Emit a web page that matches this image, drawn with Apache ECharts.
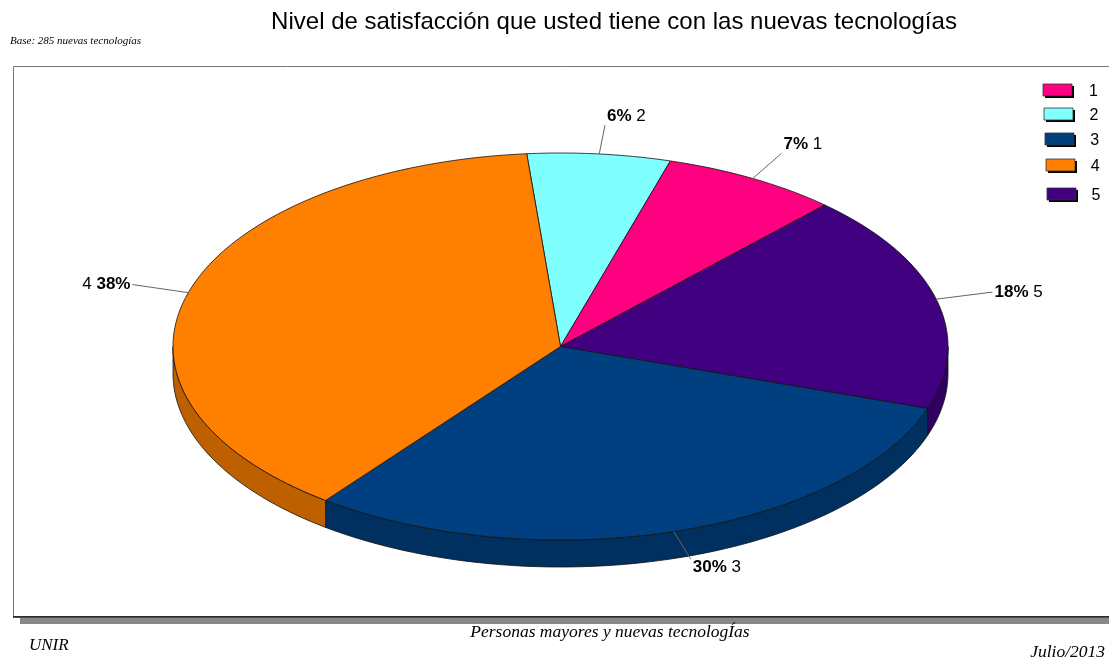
<!DOCTYPE html>
<html>
<head>
<meta charset="utf-8">
<title>Nivel de satisfacción</title>
<script src="https://cdn.jsdelivr.net/npm/echarts@6/dist/echarts.min.js"></script>
<style>
  html, body { margin: 0; padding: 0; background: #fff; }
  #chart { width: 1109px; height: 659px; }
</style>
</head>
<body>
<div id="chart"></div>
<script>
// datos (285 respuestas)
const categories = ['1', '2', '3', '4', '5'];
const counts = [21, 17, 86, 109, 52];
// orden de las porciones en el sentido de las agujas del reloj
const sliceOrder = ['2', '1', '5', '3', '4'];
const colors = ['#ff0080', '#80ffff', '#004080', '#ff8000', '#400080'];
const sideColors = ['#bf0060', '#60bfbf', '#003060', '#bf6000', '#300060'];

// geometria de la tarta (elipse en pantalla)
const CX = 560.5, CY = 346.5, RX = 387.5, RY = 193.5, DEPTH = 27;
const START = 95;
const LABEL_K = 1.15;
const LEGEND_Y = [84, 108, 133, 159, 188];
const FONT = "'Liberation Sans', Arial, sans-serif";
const SERIF = "'Liberation Serif', 'Times New Roman', serif";

const total = counts.reduce((a, b) => a + b, 0);

// angulos de cada porcion
let acc = START;
const sliceData = sliceOrder.map(name => {
  const i = categories.indexOf(name);
  const span = counts[i] / total * 360;
  const item = [acc, acc - span, i];
  acc -= span;
  return item;
});

function pt(deg, dy) {
  const t = deg * Math.PI / 180;
  return [CX + RX * Math.cos(t), CY - RY * Math.sin(t) + (dy || 0)];
}

function arc(from, to, dy) {
  const pts = [];
  const n = Math.max(2, Math.ceil(Math.abs(from - to) / 1.5));
  for (let k = 0; k <= n; k++) pts.push(pt(from + (to - from) * k / n, dy));
  return pts;
}

function renderItem(params, api) {
  const a0 = api.value(0), a1 = api.value(1), i = api.value(2);
  const children = [];

  // lateral (solo la mitad delantera)
  const lo = Math.max(a1, -180), hi = Math.min(a0, 0);
  if (lo < hi) {
    const side = arc(hi, lo, 0).concat(arc(lo, hi, DEPTH));
    children.push({
      type: 'polygon',
      shape: { points: side },
      style: { fill: sideColors[i], stroke: '#111', lineWidth: 0.8 }
    });
  }

  // cara superior
  const top = [[CX, CY]].concat(arc(a0, a1, 0));
  children.push({
    type: 'polygon',
    shape: { points: top },
    style: { fill: colors[i], stroke: '#111', lineWidth: 0.8 }
  });

  // etiqueta con linea guia
  const mid = (a0 + a1) / 2;
  const t = mid * Math.PI / 180;
  const p0 = pt(mid, 0);
  const p1 = [CX + (p0[0] - CX) * LABEL_K, CY + (p0[1] - CY) * LABEL_K];
  children.push({
    type: 'line',
    shape: { x1: p0[0], y1: p0[1], x2: p1[0], y2: p1[1] },
    style: { stroke: '#666', lineWidth: 1 }
  });
  const pct = Math.round(counts[i] / total * 100) + '%';
  const right = Math.cos(t) >= 0;
  const s = Math.sin(t);
  children.push({
    type: 'text',
    x: p1[0] + (right ? 2 : -2),
    y: p1[1],
    style: {
      text: right ? '{p|' + pct + '} {n|' + categories[i] + '}'
                  : '{n|' + categories[i] + '} {p|' + pct + '}',
      align: right ? 'left' : 'right',
      verticalAlign: s > 0.5 ? 'bottom' : (s < -0.5 ? 'top' : 'middle'),
      fill: '#000',
      fontSize: 17,
      fontFamily: FONT,
      rich: {
        p: { fontWeight: 'bold', fontSize: 17, fontFamily: FONT, fill: '#000' },
        n: { fontSize: 17, fontFamily: FONT, fill: '#000' }
      }
    }
  });

  return { type: 'group', children: children };
}

// leyenda hecha a mano
const legendItems = [];
categories.forEach((c, i) => {
  const y = LEGEND_Y[i];
  const x = 1043 + i;
  legendItems.push({
    type: 'rect',
    shape: { x: x + 2, y: y + 2, width: 29, height: 12 },
    style: { fill: '#000' }
  });
  legendItems.push({
    type: 'rect',
    shape: { x: x, y: y, width: 29, height: 12 },
    style: { fill: colors[i], stroke: '#333', lineWidth: 0.8 }
  });
  legendItems.push({
    type: 'text',
    x: 1089 + i * 0.6,
    y: y + 8,
    style: { text: c, fill: '#000', fontSize: 16, fontFamily: FONT, verticalAlign: 'middle' }
  });
});

const chart = echarts.init(document.getElementById('chart'));
const option = {
  backgroundColor: '#fff',
  animation: false,
  title: {
    text: 'Nivel de satisfacción que usted tiene con las nuevas tecnologías',
    left: 609,
    top: 5,
    textAlign: 'center',
    textStyle: { fontFamily: FONT, fontSize: 24, fontWeight: 'normal', color: '#000' }
  },
  graphic: [
    {
      type: 'rect',
      z: -10,
      shape: { x: 20, y: 618, width: 1100, height: 6 },
      style: { fill: '#888' }
    },
    {
      type: 'rect',
      z: -10,
      shape: { x: 13.5, y: 66.5, width: 1110, height: 550 },
      style: { fill: '#fff', stroke: '#777', lineWidth: 1 }
    },
    {
      type: 'line',
      z: -9,
      shape: { x1: 13, y1: 617, x2: 1109, y2: 617 },
      style: { stroke: '#111', lineWidth: 1.5 }
    },
    {
      type: 'text',
      x: 10,
      y: 41,
      style: { text: 'Base: 285 nuevas tecnologías', fill: '#000', font: 'italic 11px ' + SERIF, verticalAlign: 'middle' }
    },
    {
      type: 'text',
      x: 610,
      y: 632,
      style: { text: 'Personas mayores y nuevas tecnologÍas', fill: '#000', font: 'italic 17.5px ' + SERIF, align: 'center', verticalAlign: 'middle' }
    },
    {
      type: 'text',
      x: 29,
      y: 646,
      style: { text: 'UNIR', fill: '#000', font: 'italic 17px ' + SERIF, verticalAlign: 'middle' }
    },
    {
      type: 'text',
      x: 1105,
      y: 652,
      style: { text: 'Julio/2013', fill: '#000', font: 'italic 17.5px ' + SERIF, align: 'right', verticalAlign: 'middle' }
    }
  ].concat(legendItems),
  series: [
    {
      type: 'custom',
      coordinateSystem: 'none',
      renderItem: renderItem,
      data: sliceData
    }
  ]
};
chart.setOption(option);
</script>
</body>
</html>
